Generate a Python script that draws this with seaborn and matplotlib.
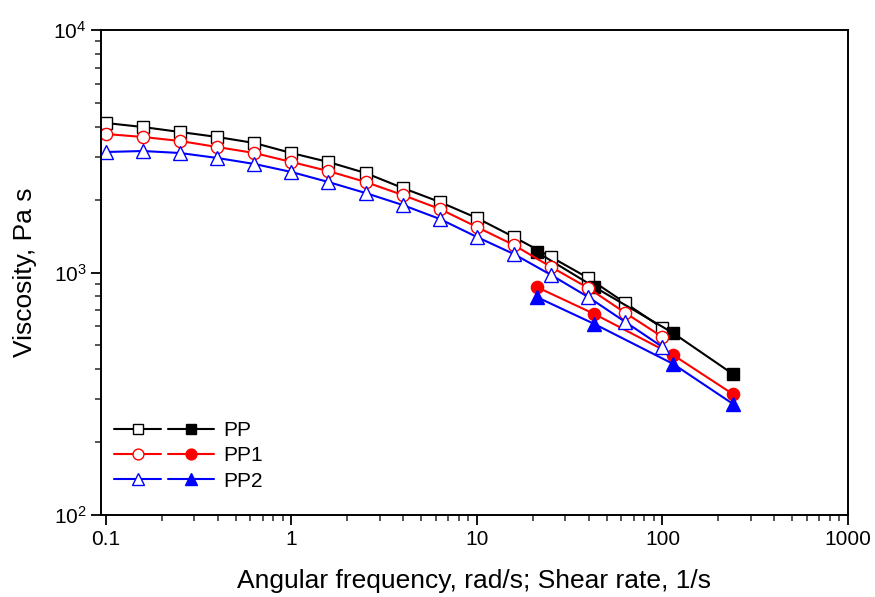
"""
Вязкость PP, PP1, PP2: частотная развёртка и капиллярная реометрия
"""

import numpy as np
import pandas as pd
import matplotlib
matplotlib.use('Agg')
import matplotlib.pyplot as plt
import seaborn as sns
from matplotlib.lines import Line2D
from matplotlib.legend_handler import HandlerTuple
from matplotlib.ticker import LogLocator, NullFormatter

# угловая частота, рад/с (открытые маркеры)
freq = [0.1, 0.158, 0.251, 0.398, 0.631, 1.0, 1.58, 2.51, 3.98, 6.31,
        10.0, 15.8, 25.1, 39.8, 63.1, 100.0]
pp_freq = [4136, 3981, 3797, 3622, 3420, 3110, 2856, 2572, 2231, 1953,
           1677, 1401, 1158, 949, 748, 590]
pp1_freq = [3725, 3622, 3486, 3292, 3110, 2856, 2621, 2362, 2087, 1828,
            1540, 1298, 1054, 863, 681, 542]
pp2_freq = [3140, 3170, 3110, 2967, 2803, 2597, 2362, 2127, 1898, 1662,
            1401, 1192, 977, 792, 625, 493]

# скорость сдвига, 1/с (закрашенные маркеры)
shear = [21.0, 43.0, 114.0, 240.0]
pp_shear = [1215, 871, 563, 381]
pp1_shear = [871, 674, 457, 315]
pp2_shear = [792, 613, 420, 287]

labels = ['PP', 'PP1', 'PP2']
colors = ['black', 'red', 'blue']
markers = ['s', 'o', '^']

sns.set_style('ticks')
plt.rcParams['font.family'] = ['Liberation Sans', 'DejaVu Sans']
plt.rcParams['mathtext.fontset'] = 'custom'
plt.rcParams['mathtext.rm'] = 'Liberation Sans'
plt.rcParams['text.color'] = 'black'
plt.rcParams['axes.labelcolor'] = 'black'

fig = plt.figure(figsize=(8.75, 5.97), dpi=100)
ax = fig.add_axes([0.1154, 0.1374, 0.8537, 0.8123])

freq_data = [pp_freq, pp1_freq, pp2_freq]
shear_data = [pp_shear, pp1_shear, pp2_shear]

for lab, c, m, yf, ys in zip(labels, colors, markers, freq_data, shear_data):
    ms = 9.5 if m == '^' else 8.8
    df_f = pd.DataFrame({'x': freq, 'y': yf})
    df_s = pd.DataFrame({'x': shear, 'y': ys})
    sns.lineplot(data=df_f, x='x', y='y', ax=ax, color=c, lw=1.5,
                 marker=m, markersize=ms, markerfacecolor='white',
                 markeredgecolor=c, markeredgewidth=1.0,
                 estimator=None, sort=False, legend=False)
    sns.lineplot(data=df_s, x='x', y='y', ax=ax, color=c, lw=1.5,
                 marker=m, markersize=ms, markerfacecolor=c,
                 markeredgecolor=c, markeredgewidth=1.0,
                 estimator=None, sort=False, legend=False)

ax.set_xscale('log')
ax.set_yscale('log')
ax.set_xlim(0.094, 1000)
ax.set_ylim(100, 10000)

ax.set_xticks([0.1, 1, 10, 100, 1000])
ax.set_xticklabels(['0.1', '1', '10', '100', '1000'])
ax.xaxis.set_minor_locator(LogLocator(base=10, subs=np.arange(2, 10)))
ax.xaxis.set_minor_formatter(NullFormatter())
ax.yaxis.set_minor_locator(LogLocator(base=10, subs=np.arange(2, 10)))
ax.yaxis.set_minor_formatter(NullFormatter())

ax.tick_params(which='major', direction='out', length=7, width=1.3,
               labelsize=15, colors='black')
ax.tick_params(which='minor', direction='out', length=4, width=1.1)
for s in ax.spines.values():
    s.set_linewidth(1.4)
    s.set_color('black')

ax.set_xlabel('Angular frequency, rad/s; Shear rate, 1/s', fontsize=19, labelpad=15)
ax.set_ylabel('Viscosity, Pa s', fontsize=19, labelpad=12)

handles = []
for c, m in zip(colors, markers):
    ms = 8.5 if m == '^' else 7.8
    h_open = Line2D([], [], color=c, lw=1.5, marker=m, markersize=ms,
                    markerfacecolor='white', markeredgecolor=c)
    h_fill = Line2D([], [], color=c, lw=1.5, marker=m, markersize=ms,
                    markerfacecolor=c, markeredgecolor=c)
    handles.append((h_open, h_fill))

ax.legend(handles, labels, handler_map={tuple: HandlerTuple(ndivide=None, pad=0.3)},
          loc='upper left', bbox_to_anchor=(-0.007, 0.232), frameon=False,
          fontsize=15, handlelength=4.8, numpoints=1, labelspacing=0.3,
          handletextpad=0.4)

plt.savefig('out.png', dpi=100)
plt.close()
